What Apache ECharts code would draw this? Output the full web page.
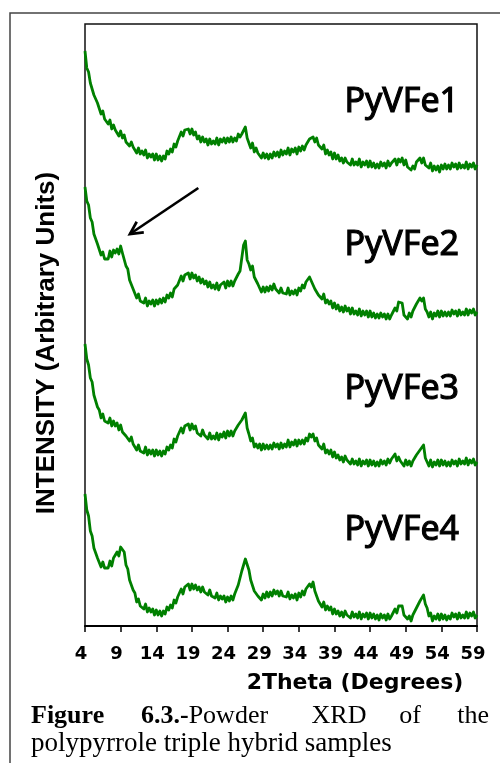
<!DOCTYPE html>
<html>
<head>
<meta charset="utf-8">
<script src="https://cdn.jsdelivr.net/npm/echarts@6/dist/echarts.min.js"></script>
<style>
html,body{margin:0;padding:0;background:#fff;}
#chart{width:500px;height:763px;}
</style>
</head>
<body>
<div id="chart"></div>
<script>
// 2Theta sampling grid (degrees)
const twoThetaStart = 4;
const twoThetaStep = 0.25;

const sampleNames = ['PyVFe1', 'PyVFe2', 'PyVFe3', 'PyVFe4'];

// Intensities (arbitrary units, stacked with vertical offsets), one value per 0.25 deg from 4 to 59
const pyvfe1 = [
575,558,554,543, 541,531,532,523, 521,512,515,507, 508,502,506,497, 501,496,498,490,
495,488,491,484, 486,480,484,479, 480,473,478,472, 475,471,476,468, 472,469,472,466,
472,466,470,465, 470,467,475,472, 477,474,482,479, 485,485,494,490, 496,494,497,492,
497,491,494,487, 490,484,489,484, 487,481,487,482, 485,482,488,481, 487,484,488,483,
488,484,489,484, 488,485,492,489, 492,491,499,488, 483,478,483,474, 478,473,475,468,
473,468,472,467, 472,468,474,470, 474,469,476,471, 475,472,478,471, 477,474,478,472,
479,475,480,476, 481,479,487,485, 489,484,488,481, 482,477,481,472, 476,471,474,467,
473,467,471,465, 468,463,468,464, 466,461,467,461, 464,461,467,459, 464,461,465,459,
465,459,463,458, 462,458,464,460, 463,458,465,460, 463,461,467,461, 467,464,468,461,
466,459,461,456, 460,457,464,462, 468,463,468,461, 463,458,463,455, 460,456,460,454,
461,457,462,457, 461,457,463,459, 462,457,463,458, 461,458,464,457, 462,459,463,457,
461];

const pyvfe2 = [
439,425,421,408, 404,392,391,382, 380,371,374,367, 369,367,375,369, 376,373,377,372,
380,373,371,360, 357,346,346,337, 336,328,332,325, 327,323,328,320, 325,322,326,320,
326,322,327,323, 328,324,331,328, 333,329,337,335, 341,341,350,345, 351,349,353,347,
353,348,351,345, 349,343,347,342, 345,339,344,338, 341,337,343,336, 341,339,344,338,
345,340,345,340, 345,343,352,355, 368,381,385,366, 362,356,360,349, 350,342,342,334,
339,334,339,335, 340,336,342,337, 339,333,338,333, 335,332,338,331, 335,332,336,331,
338,335,341,338, 344,342,349,345, 346,337,339,331, 332,327,332,323, 326,322,325,318,
323,317,321,315, 319,314,320,315, 318,312,318,312, 315,311,317,310, 315,311,315,309,
315,309,313,308, 312,308,313,309, 312,307,312,307, 311,310,318,315, 324,324,323,311,
312,307,313,309, 315,313,322,322, 328,325,328,317, 314,309,314,307, 313,310,315,309,
315,310,314,310, 314,310,316,312, 315,310,316,311, 314,311,317,311, 316,313,317,311,
314];

const pyvfe3 = [
282,267,261,248, 244,231,229,219, 216,208,212,205, 207,203,208,200, 205,200,203,196,
201,194,196,190, 192,185,189,182, 183,176,181,175, 177,173,179,171, 176,172,176,170,
176,171,175,170, 175,172,179,176, 181,178,187,184, 190,189,198,193, 200,198,202,196,
202,197,200,193, 195,190,196,191, 193,187,193,187, 190,187,193,186, 192,189,194,188,
195,190,195,190, 195,193,201,200, 206,205,213,198, 192,185,188,179, 182,178,182,176,
182,177,181,177, 181,177,183,179, 182,177,183,178, 182,179,186,179, 184,181,186,180,
186,182,186,182, 188,185,192,189, 192,185,188,181, 182,177,182,173, 176,172,176,169,
174,168,171,166, 169,164,170,166, 168,162,167,162, 165,161,167,160, 165,162,166,160,
166,161,165,160, 164,160,166,162, 165,161,167,163, 167,165,172,165, 169,165,167,160,
166,161,165,160, 165,163,171,169, 176,174,181,168, 166,160,166,159, 164,161,166,160,
166,161,165,160, 164,160,166,162, 165,160,167,162, 165,162,168,161, 166,163,167,161,
164];

const pyvfe4 = [
132,116,110,95, 90,78,77,68, 66,59,64,58, 60,58,65,60, 68,67,74,70,
79,78,74,61, 57,46,46,36, 33,24,27,20, 21,17,22,14, 18,14,17,11,
16,11,15,10, 15,12,19,16, 21,18,26,23, 29,28,37,32, 39,37,42,36,
42,37,41,36, 39,34,39,34, 36,31,36,30, 32,28,33,26, 30,27,30,24,
29,25,30,26, 32,31,41,43, 55,57,67,66, 56,46,46,35, 36,30,32,26,
32,28,34,29, 34,30,36,32, 35,30,35,30, 32,29,34,27, 31,28,32,26,
33,29,35,31, 37,35,42,39, 44,35,35,25, 24,19,24,16, 20,16,19,12,
17,12,15,10, 14,9,15,11, 13,8,14,9, 12,8,14,7, 12,9,13,7,
13,8,12,7, 11,6,12,8, 11,6,12,7, 10,9,17,13, 20,19,20,11,
13,7,10,5, 11,9,18,18, 25,23,31,22, 18,10,13,5, 10,7,12,6,
12,7,11,6, 10,7,13,9, 12,7,13,8, 11,8,14,8, 13,10,14,8,
11];

const seriesValues = [pyvfe1, pyvfe2, pyvfe3, pyvfe4];

const xAxisMin = 4, xAxisMax = 59, xAxisInterval = 5;
const xAxisTitle = '2Theta (Degrees)';
const yAxisTitle = 'INTENSITY (Arbitrary Units)';

const toPairs = arr => arr.map((v, i) => [twoThetaStart + i * twoThetaStep, v]);

const chart = echarts.init(document.getElementById('chart'), null, {renderer: 'canvas'});

const labelFont = "'Comic Sans MS','Noto Sans',sans-serif";
const labelY = [102, 245, 389, 530];

const option = {
  backgroundColor: '#ffffff',
  animation: false,
  grid: {
    left: 85, right: 23, top: 24, bottom: 137,
    show: true, borderColor: '#111', borderWidth: 1.5,
    containLabel: false, outerBoundsMode: 'none'
  },
  xAxis: {
    type: 'value', min: xAxisMin, max: xAxisMax, interval: xAxisInterval,
    axisLine: {show: true, onZero: false, lineStyle: {color: '#000', width: 2}},
    axisTick: {show: true, inside: false, length: 6, lineStyle: {color: '#000', width: 1.5}},
    axisLabel: {
      show: true, color: '#000', fontFamily: 'DejaVu Sans', fontWeight: 'bold',
      fontSize: 18, margin: 19, padding: [0, 8, 0, 0],
      showMinLabel: true, showMaxLabel: true
    },
    splitLine: {show: false}
  },
  yAxis: {type: 'value', min: 0, max: 602, show: false},
  series: seriesValues.map((vals, k) => ({
    name: sampleNames[k],
    type: 'line',
    data: toPairs(vals),
    showSymbol: false,
    symbol: 'none',
    silent: true,
    lineStyle: {color: '#008000', width: 2.8, join: 'round'},
    z: 3
  })),
  graphic: [
    {type: 'rect', shape: {x: 10, y: 13, width: 600, height: 800},
     style: {fill: 'none', stroke: '#444', lineWidth: 1.5}, silent: true, z: 0},
    {type: 'text', x: 355, y: 683,
     style: {text: xAxisTitle, fontFamily: 'DejaVu Sans', fontWeight: 'bold', fontSize: 22,
             fill: '#000', align: 'center', verticalAlign: 'middle'}},
    {type: 'text', x: 47, y: 343, rotation: Math.PI / 2,
     style: {text: yAxisTitle, fontFamily: 'Liberation Sans', fontWeight: 'bold', fontSize: 26,
             fill: '#000', align: 'center', verticalAlign: 'middle'}},
  ].concat(sampleNames.map((n, k) => ({
    type: 'text', x: 459, y: labelY[k],
    style: {text: n, fontFamily: labelFont, fontWeight: 'normal', fontSize: 34, fill: '#000',
            stroke: '#000', lineWidth: 1.1,
            align: 'right', verticalAlign: 'middle'}
  }))).concat([
    {type: 'text', x: 31, y: 716,
     style: {text: 'Figure', fontFamily: 'Liberation Serif', fontWeight: 'bold', fontSize: 26,
             fill: '#000', align: 'left', verticalAlign: 'middle'}},
    {type: 'text', x: 141, y: 716,
     style: {text: '{b|6.3.-}Powder', fontFamily: 'Liberation Serif', fontSize: 26, fill: '#000',
             align: 'left', verticalAlign: 'middle',
             rich: {b: {fontFamily: 'Liberation Serif', fontWeight: 'bold', fontSize: 26, fill: '#000'}}}},
    {type: 'text', x: 339, y: 716,
     style: {text: 'XRD', fontFamily: 'Liberation Serif', fontSize: 26, fill: '#000',
             align: 'center', verticalAlign: 'middle'}},
    {type: 'text', x: 410, y: 716,
     style: {text: 'of', fontFamily: 'Liberation Serif', fontSize: 26, fill: '#000',
             align: 'center', verticalAlign: 'middle'}},
    {type: 'text', x: 489, y: 716,
     style: {text: 'the', fontFamily: 'Liberation Serif', fontSize: 26, fill: '#000',
             align: 'right', verticalAlign: 'middle'}},
    {type: 'text', x: 31, y: 744,
     style: {text: 'polypyrrole triple hybrid samples', fontFamily: 'Liberation Serif', fontSize: 27,
             fill: '#000', align: 'left', verticalAlign: 'middle'}}
  ])
};

chart.setOption(option);

// Arrow annotation pointing at the low-angle reflection of PyVFe2 (data coordinates)
const arrowTail = [19.9, 438];
const arrowTip = [10.3, 392];
const pTail = chart.convertToPixel({gridIndex: 0}, arrowTail);
const pTip = chart.convertToPixel({gridIndex: 0}, arrowTip);
const ang = Math.atan2(pTail[1] - pTip[1], pTail[0] - pTip[0]);
const barb = 14, spread = 0.47;
const b1 = [pTip[0] + barb * Math.cos(ang + spread), pTip[1] + barb * Math.sin(ang + spread)];
const b2 = [pTip[0] + barb * Math.cos(ang - spread), pTip[1] + barb * Math.sin(ang - spread)];
chart.setOption({
  graphic: option.graphic.concat([
    {type: 'polyline', shape: {points: [pTail, pTip]},
     style: {stroke: '#000', lineWidth: 2.7, fill: 'none'}, z: 10},
    {type: 'polyline', shape: {points: [b1, pTip, b2]},
     style: {stroke: '#000', lineWidth: 2.7, fill: 'none', lineJoin: 'miter'}, z: 10}
  ])
}, {replaceMerge: ['graphic']});
</script>
</body>
</html>
